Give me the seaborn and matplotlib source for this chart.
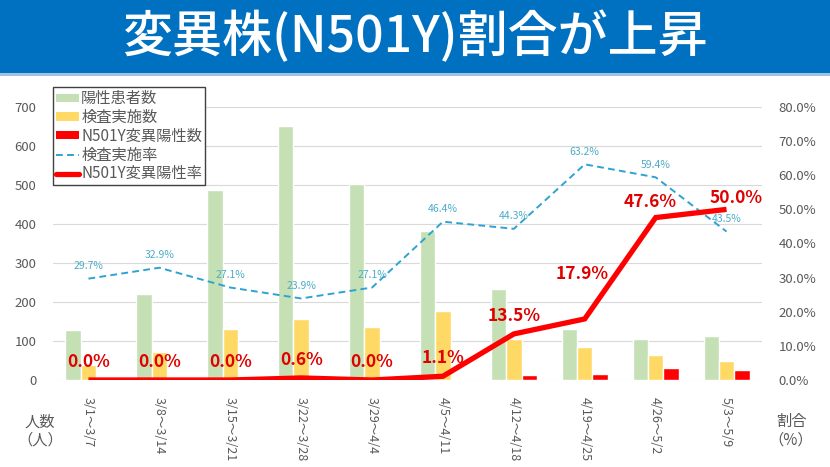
import numpy as np
import pandas as pd
import matplotlib
matplotlib.use("Agg")
import matplotlib.pyplot as plt
import seaborn as sns
from matplotlib.patches import Rectangle, Patch
from matplotlib.lines import Line2D

# ---------------- data ----------------
weeks = ['3/1～3/7', '3/8～3/14', '3/15～3/21', '3/22～3/28', '3/29～4/4',
         '4/5～4/11', '4/12～4/18', '4/19～4/25', '4/26～5/2', '5/3～5/9']
positives = [128, 221, 487, 652, 503, 383, 234, 132, 104, 114]      # 陽性患者数
tested = [38, 73, 132, 156, 136, 178, 104, 84, 63, 50]              # 検査実施数
variant = [0, 0, 0, 1, 0, 2, 14, 15, 30, 25]                        # N501Y変異陽性数
test_rate = [29.7, 32.9, 27.1, 23.9, 27.1, 46.4, 44.3, 63.2, 59.4, 43.5]   # 検査実施率 (%)
variant_rate = [0.0, 0.0, 0.0, 0.6, 0.0, 1.1, 13.5, 17.9, 47.6, 50.0]      # N501Y変異陽性率 (%)
series_names = ['陽性患者数', '検査実施数', 'N501Y変異陽性数', '検査実施率', 'N501Y変異陽性率']
title = '変異株(N501Y)割合が上昇'
left_ticks = [0, 100, 200, 300, 400, 500, 600, 700]
right_ticks = [0, 10, 20, 30, 40, 50, 60, 70, 80]

# ---------------- style ----------------
sns.set_theme(style="white")
plt.rcParams['font.family'] = ['Noto Sans CJK JP', 'DejaVu Sans']

GREEN = '#C5E0B4'
YELLOW = '#FFD966'
RED = '#FF0000'
BLUE = '#2EA3D3'
BLUE_TXT = '#4BACC6'
LABEL_RED = '#E00000'
GRAY = '#595959'

df = pd.DataFrame({
    'week': weeks * 3,
    'value': positives + tested + variant,
    'series': [series_names[0]] * len(weeks) + [series_names[1]] * len(weeks) + [series_names[2]] * len(weeks),
})

fig = plt.figure(figsize=(8.3, 4.67), dpi=100)
ax = fig.add_axes([53 / 830, 1 - 380 / 467, (762 - 53) / 830, (380 - 107) / 467])

sns.barplot(data=df, x='week', y='value', hue='series', order=weeks,
            hue_order=series_names[:3],
            palette={series_names[0]: GREEN, series_names[1]: YELLOW, series_names[2]: RED},
            width=0.65, saturation=1, ax=ax, legend=False, errorbar=None)

ax.set_xlim(-0.5, len(weeks) - 0.5)
ax.set_ylim(0, 700)
ax.set_yticks(left_ticks)
ax.set_yticklabels([str(t) for t in left_ticks], color=GRAY, fontsize=9.5)
ax.grid(axis='y', color='#D9D9D9', linewidth=0.8)
ax.set_axisbelow(True)
for s in ax.spines.values():
    s.set_visible(False)
ax.tick_params(axis='both', length=0)
ax.tick_params(axis='y', pad=12)
ax.set_xlabel('')
ax.set_ylabel('')
ax.set_xticks(range(len(weeks)))
ax.set_xticklabels(weeks, rotation=-90, ha='center', va='top', color=GRAY, fontsize=9)
ax.tick_params(axis='x', pad=12)

ax2 = ax.twinx()
xs = np.arange(len(weeks))
sns.lineplot(x=xs, y=test_rate, ax=ax2, color=BLUE, linewidth=1.4)
ax2.lines[-1].set_dashes([3.5, 2.2])
sns.lineplot(x=xs, y=variant_rate, ax=ax2, color=RED, linewidth=3.8,
             solid_capstyle='butt', solid_joinstyle='miter')
ax2.set_ylim(0, 80)
ax2.set_yticks(right_ticks)
ax2.set_yticklabels([f'{t:.1f}%' for t in right_ticks], color=GRAY, fontsize=9.5)
ax2.tick_params(axis='y', length=0, pad=12)
ax2.grid(False)
for s in ax2.spines.values():
    s.set_visible(False)
ax2.set_xlim(-0.5, len(weeks) - 0.5)

# data labels: test rate
for x, v in zip(xs, test_rate):
    ax2.annotate(f'{v:.1f}%', (x, v), xytext=(0, 9), textcoords='offset points',
                 ha='center', va='center', fontsize=7.5, color=BLUE_TXT)

# data labels: variant rate
var_offsets = [(0, 13), (0, 13), (0, 13), (0, 13), (0, 13), (0, 13), (0, 13), (-2, 32), (-4, 11), (7, 8)]
for x, v, off in zip(xs, variant_rate, var_offsets):
    ax2.annotate(f'{v:.1f}%', (x, v), xytext=off, textcoords='offset points',
                 ha='center', va='center', fontsize=12.5, color=LABEL_RED, fontweight='bold')

# legend
handles = [
    Patch(facecolor=GREEN, edgecolor='none'),
    Patch(facecolor=YELLOW, edgecolor='none'),
    Patch(facecolor=RED, edgecolor='none'),
    Line2D([0], [0], color=BLUE, linewidth=1.4, dashes=[3.5, 2.2]),
    Line2D([0], [0], color=RED, linewidth=3.8),
]
leg = fig.legend(handles, series_names, loc='upper left',
                 bbox_to_anchor=(53 / 830, 1 - 87 / 467), frameon=True, fancybox=False,
                 edgecolor='#404040', framealpha=1, fontsize=11, labelspacing=0.12,
                 handlelength=1.5, handleheight=0.45, handletextpad=0.15,
                 borderpad=0.2, borderaxespad=0)
leg.get_frame().set_linewidth(1.0)
for t in leg.get_texts():
    t.set_color(GRAY)

# axis unit labels
fig.text(40 / 830, 1 - 431 / 467, '人数\n（人）', ha='center', va='center',
         fontsize=11, color=GRAY, linespacing=1.1)
fig.text(791 / 830, 1 - 431 / 467, '割合\n（%）', ha='center', va='center',
         fontsize=11, color=GRAY, linespacing=1.1)

# title banner
fig.patches.append(Rectangle((0, 1 - 73 / 467), 1, 73 / 467, transform=fig.transFigure,
                             facecolor='#0070C0', edgecolor='none', zorder=0))
fig.patches.append(Rectangle((0, 1 - 76 / 467), 1, 3 / 467, transform=fig.transFigure,
                             facecolor='#9DC3E6', edgecolor='none', zorder=0))
fig.text(0.5, 1 - 37 / 467, title, ha='center', va='center', fontsize=36,
         color='white', fontweight='medium')

fig.savefig('out.png', dpi=100)
